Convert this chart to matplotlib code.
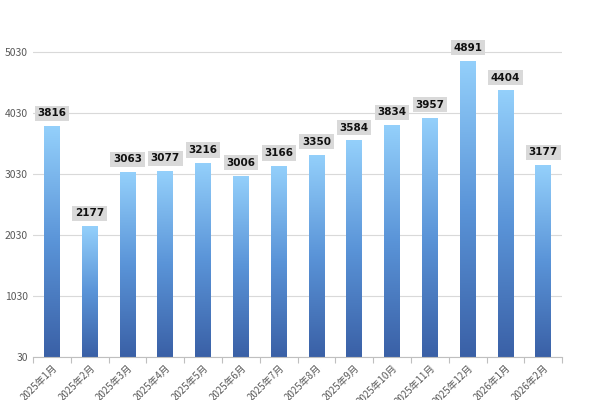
import matplotlib
matplotlib.use("Agg")
import matplotlib.pyplot as plt
import numpy as np
from matplotlib.colors import LinearSegmentedColormap

plt.rcParams['font.family'] = ['Noto Sans CJK SC', 'DejaVu Sans']

months = ["2025年1月","2025年2月","2025年3月","2025年4月","2025年5月","2025年6月","2025年7月",
          "2025年8月","2025年9月","2025年10月","2025年11月","2025年12月","2026年1月","2026年2月"]
values = [3816, 2177, 3063, 3077, 3216, 3006, 3166, 3350, 3584, 3834, 3957, 4891, 4404, 3177]
yticks = [30, 1030, 2030, 3030, 4030, 5030]

fig = plt.figure(figsize=(6, 4), dpi=100)
ax = fig.add_axes([0.055, 0.107, 0.882, 0.843])
ymin, ymax = 30, 5560
cmap = LinearSegmentedColormap.from_list("g", ["#3a60a6", "#5a94d8", "#94d0fb"])
x = np.arange(len(values))
w = 0.42
bars = ax.bar(x, np.array(values) - ymin, bottom=ymin, width=w, color='none', zorder=2)
grad = np.linspace(0, 1, 256).reshape(-1, 1)
for b, v in zip(bars, values):
    im = ax.imshow(grad, cmap=cmap, origin='lower', aspect='auto',
                   extent=[b.get_x(), b.get_x() + w, ymin, v], zorder=2)
    im.set_clip_path(b)
    ax.text(b.get_x() + w / 2, v + 130, str(v), ha='center', va='bottom', fontsize=7.5,
            fontweight='bold', color='#111111', family='DejaVu Sans',
            bbox=dict(boxstyle='square,pad=0.25', fc='#d9d9d9', ec='none'), zorder=3)
ax.set_xlim(-0.5, len(values) - 0.5)
ax.set_ylim(ymin, ymax)
ax.set_yticks(yticks)
ax.set_yticklabels([str(t) for t in yticks], fontsize=7.5, color='#595959')
ax.set_xticks(np.arange(-0.5, len(values), 1), minor=False)
ax.set_xticklabels([])
ax.set_xticks(x, minor=True)
ax.set_xticklabels(months, minor=True, rotation=45, ha='right', rotation_mode='anchor',
                   fontsize=7, color='#595959')
ax.tick_params(axis='x', which='minor', length=0, pad=4)
ax.tick_params(axis='x', which='major', length=4, color='#bfbfbf')
ax.tick_params(axis='y', length=0)
ax.grid(axis='y', color='#d9d9d9', linewidth=0.8, zorder=0)
for s in ['top', 'right', 'left']:
    ax.spines[s].set_visible(False)
ax.spines['bottom'].set_color('#bfbfbf')
fig.savefig("out.png", dpi=100)
